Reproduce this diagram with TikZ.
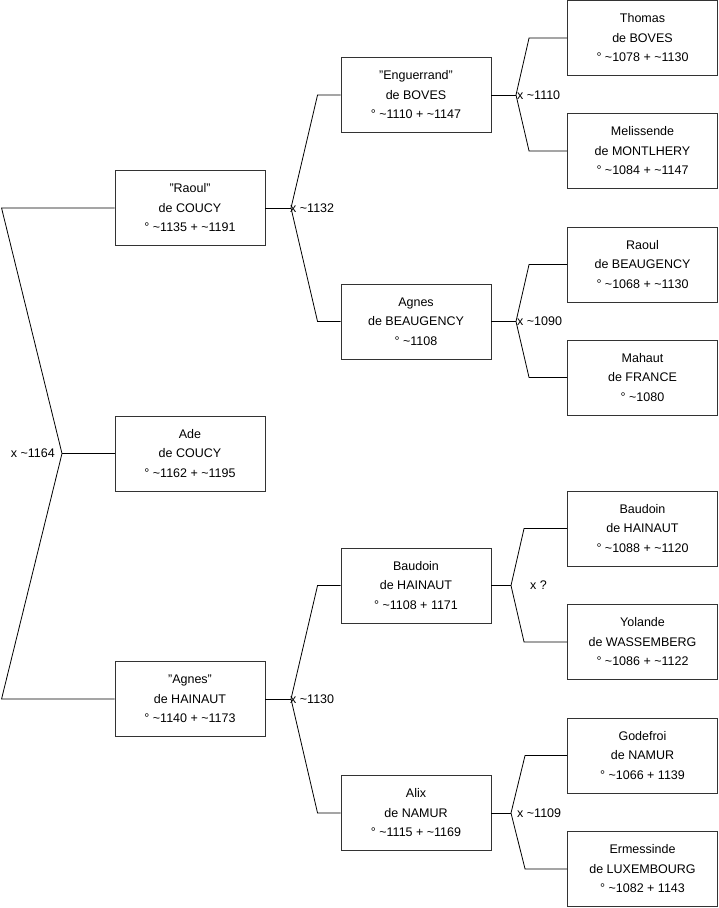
\documentclass[tikz,border=0pt]{standalone}
\usepackage{fontspec}
\setmainfont{Liberation Sans}
\usepackage{xcolor}
\usetikzlibrary{positioning,calc}
\definecolor{boxLine}{RGB}{51,51,51}
\newcommand{\abt}{\textasciitilde}
\tikzset{
  personbox/.style={
    rectangle, draw=boxLine, line width=0.9pt, fill=white,
    minimum width=150pt, minimum height=75pt, inner sep=0pt,
    align=center, font=\fontsize{12.5}{19.5}\selectfont
  },
  linkline/.style={draw=black, line width=0.8pt},
  weddate/.style={inner sep=0pt, font=\fontsize{12.5}{15}\selectfont}
}
\begin{document}
\begin{tikzpicture}[x=1pt, y=-1pt]
        \useasboundingbox (0,0) rectangle (719,908);
        % generation 1
        \node[personbox] (ade) at (190,453.5) {Ade\\de COUCY\\° \abt1162 + \abt1195};
        % generation 2
        \node[personbox] (raoul) at (190,208) {"Raoul"\\de COUCY\\° \abt1135 + \abt1191};
        \node[personbox] (agnesH) at (190,699) {"Agnes"\\de HAINAUT\\° \abt1140 + \abt1173};
        % generation 3
        \node[personbox] (enguerrand) at (416,95) {"Enguerrand"\\de BOVES\\° \abt1110 + \abt1147};
        \node[personbox] (agnesB) at (416,321.5) {Agnes\\de BEAUGENCY\\° \abt1108};
        \node[personbox] (baudoinH) at (416,585.5) {Baudoin\\de HAINAUT\\° \abt1108 + 1171};
        \node[personbox] (alix) at (416,813) {Alix\\de NAMUR\\° \abt1115 + \abt1169};
        % generation 4
        \node[personbox] (thomas) at (642.5,38) {Thomas\\de BOVES\\° \abt1078 + \abt1130};
        \node[personbox] (melissende) at (642.5,151) {Melissende\\de MONTLHERY\\° \abt1084 + \abt1147};
        \node[personbox] (raoulB) at (642.5,264.5) {Raoul\\de BEAUGENCY\\° \abt1068 + \abt1130};
        \node[personbox] (mahaut) at (642.5,377.5) {Mahaut\\de FRANCE\\° \abt1080};
        \node[personbox] (baudoinF) at (642.5,528.5) {Baudoin\\de HAINAUT\\° \abt1088 + \abt1120};
        \node[personbox] (yolande) at (642.5,642) {Yolande\\de WASSEMBERG\\° \abt1086 + \abt1122};
        \node[personbox] (godefroi) at (642.5,755.5) {Godefroi\\de NAMUR\\° \abt1066 + 1139};
        \node[personbox] (ermessinde) at (642.5,869) {Ermessinde\\de LUXEMBOURG\\° \abt1082 + 1143};
        % marriage points
        \coordinate (m0) at (62,453.5);
        \coordinate (m1) at (291,208);
        \coordinate (m2) at (291,699);
        \coordinate (m3) at (516,95);
        \coordinate (m4) at (516,321.5);
        \coordinate (m5) at (511,585.5);
        \coordinate (m6) at (511,813);
        % links
        \draw[linkline] (ade.west) -- (m0);
        \draw[linkline] (raoul.west) -- ++(-113,0) -- (m0) -- ($(agnesH.west)+(-113,0)$) -- (agnesH.west);
        \draw[linkline] (raoul.east) -- (m1);
        \draw[linkline] (enguerrand.west) -- ++(-23,0) -- (m1) -- ($(agnesB.west)+(-23,0)$) -- (agnesB.west);
        \draw[linkline] (agnesH.east) -- (m2);
        \draw[linkline] (baudoinH.west) -- ++(-23,0) -- (m2) -- ($(alix.west)+(-23,0)$) -- (alix.west);
        \draw[linkline] (enguerrand.east) -- (m3);
        \draw[linkline] (thomas.west) -- ++(-38,0) -- (m3) -- ($(melissende.west)+(-38,0)$) -- (melissende.west);
        \draw[linkline] (agnesB.east) -- (m4);
        \draw[linkline] (raoulB.west) -- ++(-38,0) -- (m4) -- ($(mahaut.west)+(-38,0)$) -- (mahaut.west);
        \draw[linkline] (baudoinH.east) -- (m5);
        \draw[linkline] (baudoinF.west) -- ++(-43,0) -- (m5) -- ($(yolande.west)+(-43,0)$) -- (yolande.west);
        \draw[linkline] (alix.east) -- (m6);
        \draw[linkline] (godefroi.west) -- ++(-42,0) -- (m6) -- ($(ermessinde.west)+(-42,0)$) -- (ermessinde.west);
        % marriage dates
        \node[weddate, anchor=east] (w0) at ([xshift=-7pt]m0) {x \abt1164};
        \node[weddate, anchor=west] (w1) at ([xshift=-1pt]m1) {x \abt1132};
        \node[weddate, anchor=west] (w2) at ([xshift=-1pt]m2) {x \abt1130};
        \node[weddate, anchor=west] (w3) at ([xshift=1pt]m3) {x \abt1110};
        \node[weddate, anchor=west] (w4) at ([xshift=1pt]m4) {x \abt1090};
        \node[weddate, anchor=west] (w5) at ([xshift=19pt]m5) {x ?};
        \node[weddate, anchor=west] (w6) at ([xshift=6pt]m6) {x \abt1109};
      \end{tikzpicture}
\end{document}
